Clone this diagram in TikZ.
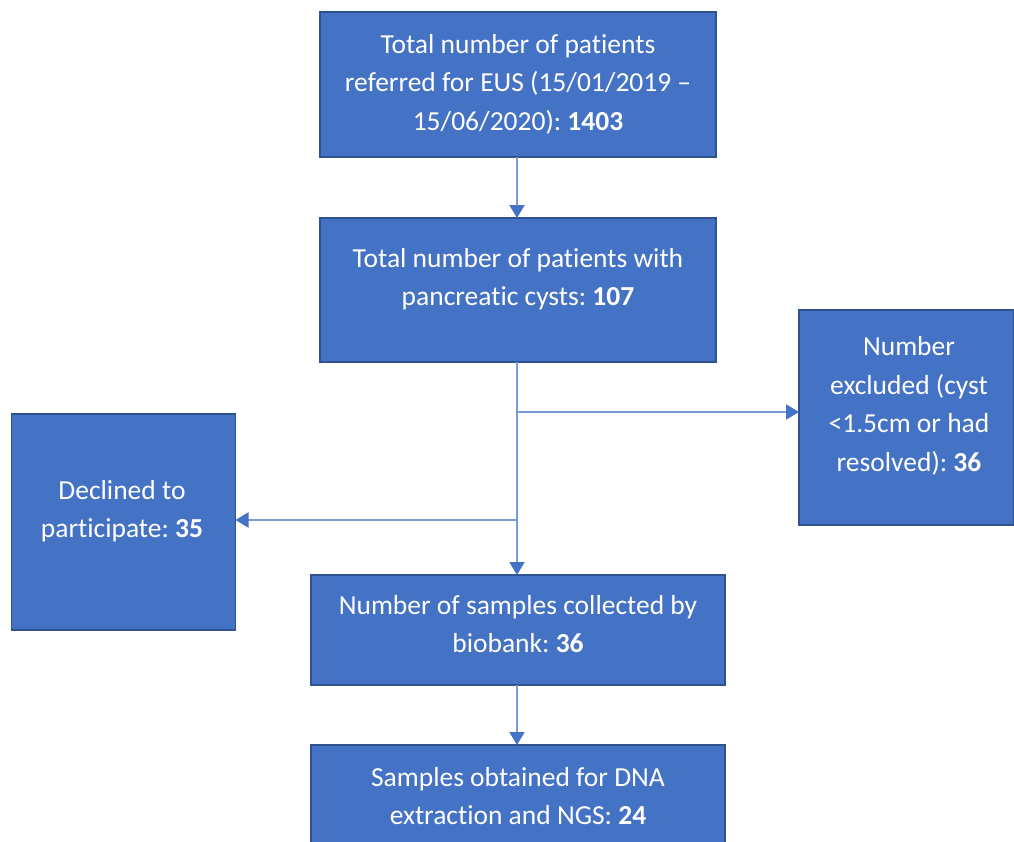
\documentclass[tikz,border=0pt]{standalone}
\usepackage{fontspec}
\setmainfont{Carlito}[Ligatures={NoCommon}]
\usetikzlibrary{arrows.meta}
\definecolor{boxfill}{HTML}{4472C4}
\definecolor{boxedge}{HTML}{2F528F}
\definecolor{linecol}{HTML}{7A9BDA}
\frenchspacing
\tikzset{
  box/.style={draw=boxedge, line width=1.8pt, fill=boxfill, inner sep=0pt, outer sep=0pt},
  txt/.style={text=white, align=center, inner sep=0pt, font=\fontsize{27.5}{38.5}\selectfont},
  conn/.style={draw=linecol, line width=2pt, -{Triangle[width=15pt,length=13pt,fill=boxfill,color=boxfill]}},
  plain/.style={draw=linecol, line width=2pt}
}
\begin{document}
\begin{tikzpicture}[x=1pt,y=-1pt]
\useasboundingbox (0,0) rectangle (1014,841);
% boxes
\node[box, minimum width=396pt, minimum height=145pt] (b1) at (518,84.5) {};
\node[box, minimum width=396pt, minimum height=144pt] (b2) at (518,290) {};
\node[box, minimum width=215pt, minimum height=215pt] (b3) at (906.5,417.5) {};
\node[box, minimum width=224pt, minimum height=216pt] (b4) at (123.5,522) {};
\node[box, minimum width=414pt, minimum height=110pt] (b5) at (518,630) {};
\node[box, minimum width=414pt, minimum height=100pt] (b6) at (518,795) {};
% texts
\node[txt] (t1) at (518,84) {Total number of patients\\referred for EUS (15/01/2019 –\\15/06/2020): \textbf{1403}};
\node[txt] (t2) at (518,279) {Total number of patients with\\pancreatic cysts: \textbf{107}};
\node[txt] (t3) at (909,406) {Number\\excluded (cyst\\<1.5cm or had\\resolved): \textbf{36}};
\node[txt] (t4) at (122,511) {Declined to\\participate: \textbf{35}};
\node[txt] (t5) at (518,624) {Number of samples collected by\\biobank: \textbf{36}};
\node[txt] (t6) at (518,796) {Samples obtained for DNA\\extraction and NGS: \textbf{24}};
% connectors
\coordinate (j1) at (517,412);
\coordinate (j2) at (517,520);
\draw[conn] (b1.south -| 517,0) -- (b2.north -| 517,0);
\draw[conn] (b2.south -| 517,0) -- (b5.north -| 517,0);
\draw[conn] (j1) -- (j1 -| b3.west);
\draw[conn] (j2) -- (j2 -| b4.east);
\draw[conn] (b5.south -| 517,0) -- (b6.north -| 517,0);
\end{tikzpicture}
\end{document}
